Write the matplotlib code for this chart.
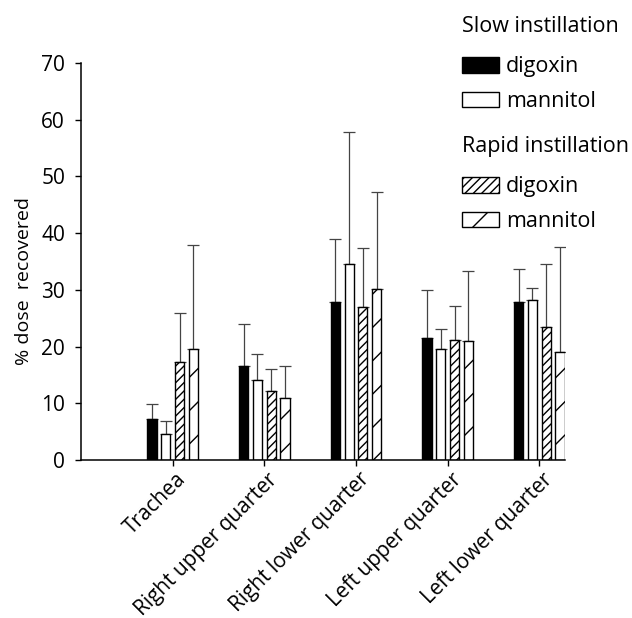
import matplotlib
matplotlib.use("Agg")
import matplotlib.pyplot as plt
import matplotlib.transforms as mtransforms
import numpy as np
from matplotlib.patches import Patch

plt.rcParams['font.family'] = ['Open Sans', 'DejaVu Sans']
plt.rcParams['hatch.linewidth'] = 1.0

categories = ["Trachea", "Right upper quarter", "Right lower quarter",
              "Left upper quarter", "Left lower quarter"]
slow_digoxin = [7.2, 16.6, 27.8, 21.5, 27.9]
slow_digoxin_err = [2.6, 7.4, 11.1, 8.5, 5.8]
slow_mannitol = [4.6, 14.1, 34.5, 19.5, 28.2]
slow_mannitol_err = [2.2, 4.6, 23.3, 3.6, 2.1]
rapid_digoxin = [17.2, 12.1, 27.0, 21.1, 23.5]
rapid_digoxin_err = [8.7, 4.0, 10.4, 6.1, 11.1]
rapid_mannitol = [19.5, 11.0, 30.2, 21.0, 19.1]
rapid_mannitol_err = [18.4, 5.6, 17.1, 12.3, 18.5]

series = [
    (slow_digoxin, slow_digoxin_err, 'black', ''),
    (slow_mannitol, slow_mannitol_err, 'white', ''),
    (rapid_digoxin, rapid_digoxin_err, 'white', '////'),
    (rapid_mannitol, rapid_mannitol_err, 'white', '/'),
]

fig = plt.figure(figsize=(6.32, 6.18), dpi=100)
ax = fig.add_axes([81/632, 1-460/618, (565-81)/632, (460-63)/618])

x = np.arange(len(categories))
offsets = [-0.225, -0.075, 0.075, 0.225]
width = 0.10
for (vals, errs, fc, hatch), off in zip(series, offsets):
    ax.bar(x + off, vals, width, color=fc, edgecolor='black', linewidth=1.0,
           hatch=hatch, zorder=2)
    ax.errorbar(x + off, vals, yerr=[np.zeros(len(vals)), errs], fmt='none',
                ecolor='#444444', elinewidth=0.9, capsize=4, capthick=0.9, zorder=1)

ax.set_xlim(-1.0, 4.28)
ax.set_ylim(0, 70)
ax.set_yticks(np.arange(0, 71, 10))
ax.set_xticks(x)
ax.set_xticklabels(categories, rotation=45, ha='right', rotation_mode='anchor')
ax.spines['top'].set_visible(False)
ax.spines['right'].set_visible(False)
for s in ['left', 'bottom']:
    ax.spines[s].set_linewidth(1.1)
ax.tick_params(axis='both', labelsize=15, width=1.0, length=4.5, colors='black')
ax.tick_params(axis='y', pad=7)
ax.tick_params(axis='x', pad=4)
shift = mtransforms.ScaledTranslation(3/100, 3/100, fig.dpi_scale_trans)
for lab in ax.get_xticklabels():
    lab.set_transform(lab.get_transform() + shift)
ax.set_ylabel("% dose  recovered", fontsize=14)
ax.yaxis.set_label_coords(-0.10, 0.451)

fs = 15.5
common = dict(frameon=False, fontsize=fs, title_fontsize=fs, alignment='left',
              handlelength=1.74, handleheight=0.73, handletextpad=0.3,
              labelspacing=0.64, borderpad=0, borderaxespad=0, loc='upper left')
h1 = [Patch(facecolor='black', edgecolor='black', label='digoxin'),
      Patch(facecolor='white', edgecolor='black', label='mannitol')]
h2 = [Patch(facecolor='white', edgecolor='black', hatch='////', label='digoxin'),
      Patch(facecolor='white', edgecolor='black', hatch='/', label='mannitol')]
leg1 = fig.legend(handles=h1, title='Slow instillation',
                  bbox_to_anchor=(462/632, 1-16/618), **common)
leg2 = fig.legend(handles=h2, title='Rapid instillation',
                  bbox_to_anchor=(462/632, 1-136/618), **common)
for leg in (leg1, leg2):
    leg._legend_box.sep = 14

fig.savefig("out.png", dpi=100)
